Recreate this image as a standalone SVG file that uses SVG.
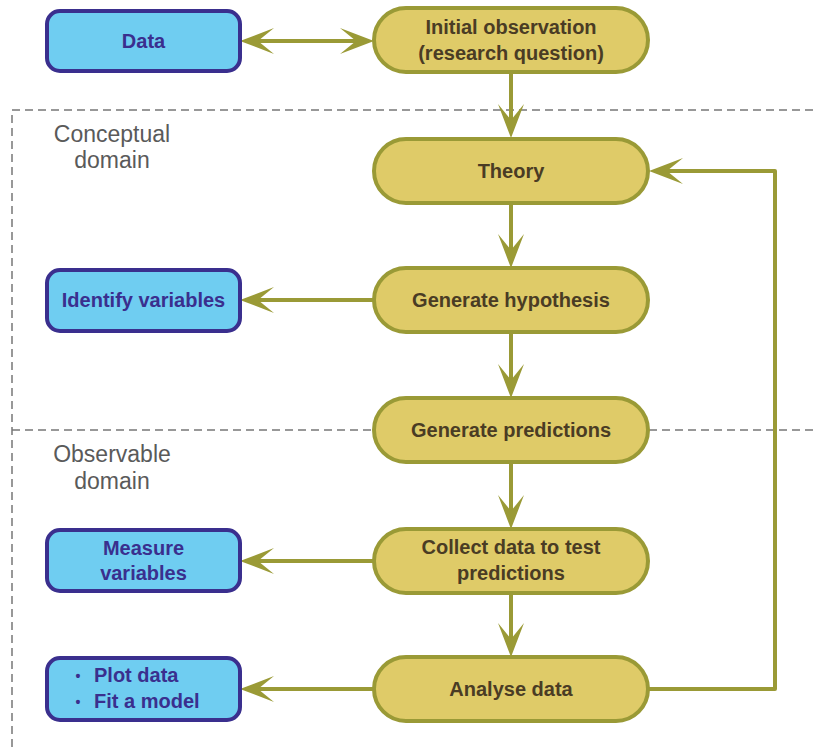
<svg xmlns="http://www.w3.org/2000/svg" width="815" height="747" viewBox="0 0 815 747">
<style>
.pill{fill:#dfcb68;stroke:#9a9a36;stroke-width:4}
.box{fill:#6fcdf1;stroke:#3a2f8e;stroke-width:4}
.pt{font-family:"Liberation Sans",Arial,sans-serif;font-weight:bold;font-size:20px;fill:#4a3c24;text-anchor:middle}
.bt{font-family:"Liberation Sans",Arial,sans-serif;font-weight:bold;font-size:20px;fill:#3a2f8e;text-anchor:middle}
.dom{font-family:"Liberation Sans",Arial,sans-serif;font-size:23px;fill:#5a5a5a;text-anchor:middle}
.dash{fill:none;stroke:#777;stroke-width:1.5;stroke-dasharray:8 5}
.conn{fill:none;stroke:#9a9a36;stroke-width:4}
</style>
<defs>
<marker id="ah" viewBox="0 0 34 26" refX="16" refY="13" markerWidth="34" markerHeight="26" markerUnits="userSpaceOnUse" orient="auto-start-reverse">
<path d="M34,13 L0,0 L16,13 L0,26 Z" fill="#9a9a36"/>
</marker>
</defs>
<rect width="815" height="747" fill="#ffffff"/>
<g id="domains">
<path class="dash" d="M12,747 V110 H815"/>
<path class="dash" d="M12,430 H815"/>
<text class="dom" x="112" y="142">Conceptual</text>
<text class="dom" x="112" y="168">domain</text>
<text class="dom" x="112" y="462">Observable</text>
<text class="dom" x="112" y="489">domain</text>
</g>
<g id="connectors">
<line class="conn" x1="258" y1="41" x2="356" y2="41" marker-start="url(#ah)" marker-end="url(#ah)"/>
<line class="conn" x1="511" y1="72" x2="511" y2="120" marker-end="url(#ah)"/>
<line class="conn" x1="511" y1="203" x2="511" y2="250" marker-end="url(#ah)"/>
<line class="conn" x1="511" y1="332" x2="511" y2="380" marker-end="url(#ah)"/>
<line class="conn" x1="511" y1="462" x2="511" y2="511" marker-end="url(#ah)"/>
<line class="conn" x1="511" y1="593" x2="511" y2="639" marker-end="url(#ah)"/>
<line class="conn" x1="374" y1="300" x2="258" y2="300" marker-end="url(#ah)"/>
<line class="conn" x1="374" y1="561" x2="258" y2="561" marker-end="url(#ah)"/>
<line class="conn" x1="374" y1="689" x2="258" y2="689" marker-end="url(#ah)"/>
<path class="conn" d="M648,689 H775 V171 H667" stroke-linejoin="round" marker-end="url(#ah)"/>
</g>
<g id="data">
<rect class="box" x="47" y="11" width="193" height="60" rx="13"/>
<text class="bt" x="143.5" y="48">Data</text>
</g>
<g id="initial">
<rect class="pill" x="374" y="8" width="274" height="64" rx="32"/>
<text class="pt" x="511" y="34">Initial observation</text>
<text class="pt" x="511" y="60">(research question)</text>
</g>
<g id="theory">
<rect class="pill" x="374" y="139" width="274" height="64" rx="32"/>
<text class="pt" x="511" y="178">Theory</text>
</g>
<g id="hypothesis">
<rect class="pill" x="374" y="268" width="274" height="64" rx="32"/>
<text class="pt" x="511" y="307">Generate hypothesis</text>
</g>
<g id="identify">
<rect class="box" x="47" y="270" width="193" height="61" rx="13"/>
<text class="bt" x="143.5" y="307">Identify variables</text>
</g>
<g id="predictions">
<rect class="pill" x="374" y="398" width="274" height="64" rx="32"/>
<text class="pt" x="511" y="437">Generate predictions</text>
</g>
<g id="collect">
<rect class="pill" x="374" y="529" width="274" height="64" rx="32"/>
<text class="pt" x="511" y="554">Collect data to test</text>
<text class="pt" x="511" y="580">predictions</text>
</g>
<g id="measure">
<rect class="box" x="47" y="530" width="193" height="61" rx="13"/>
<text class="bt" x="143.5" y="555">Measure</text>
<text class="bt" x="143.5" y="580">variables</text>
</g>
<g id="analyse">
<rect class="pill" x="374" y="657" width="274" height="64" rx="32"/>
<text class="pt" x="511" y="696">Analyse data</text>
</g>
<g id="plot">
<rect class="box" x="47" y="658" width="193" height="62" rx="13"/>
<text class="bt" x="78" y="681" style="font-size:14px">•</text>
<text class="bt" x="94" y="682" text-anchor="start" style="text-anchor:start">Plot data</text>
<text class="bt" x="78" y="707" style="font-size:14px">•</text>
<text class="bt" x="94" y="708" style="text-anchor:start">Fit a model</text>
</g>
</svg>
